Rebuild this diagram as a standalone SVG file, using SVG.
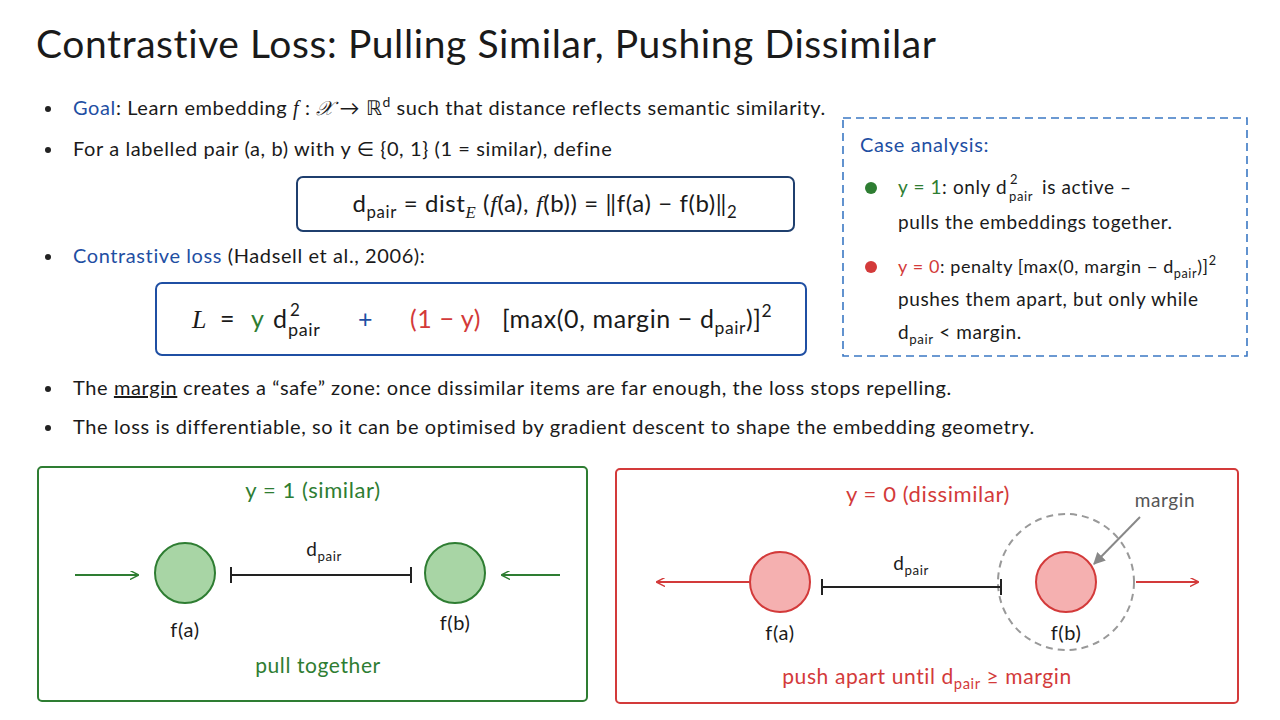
<svg xmlns="http://www.w3.org/2000/svg" width="1280" height="720" viewBox="0 0 1280 720">
<defs>
<style>
text{font-family:Lato,"Open Sans","DejaVu Sans",sans-serif;fill:#1a1a1a;letter-spacing:0.6px}
.b{font-size:20px}
.g{fill:#2e7d32}.r{fill:#d33a3a}.bl{fill:#1f4fa3}
.c{text-anchor:middle}
.s{font-size:70%}
.it{font-style:italic;font-family:"Liberation Serif",serif}
</style>
<marker id="ag" viewBox="0 0 10 10" refX="9" refY="5" markerWidth="9" markerHeight="9" orient="auto-start-reverse" markerUnits="userSpaceOnUse"><path d="M0,0 L10,5 L0,10" fill="none" stroke="#2e7d32" stroke-width="1.6"/></marker>
<marker id="ar" viewBox="0 0 10 10" refX="9" refY="5" markerWidth="9" markerHeight="9" orient="auto-start-reverse" markerUnits="userSpaceOnUse"><path d="M0,0 L10,5 L0,10" fill="none" stroke="#d33a3a" stroke-width="1.6"/></marker>
<marker id="ay" viewBox="0 0 10 10" refX="9" refY="5" markerWidth="12" markerHeight="12" orient="auto" markerUnits="userSpaceOnUse"><path d="M0,0 L10,5 L0,10z" fill="#888"/></marker>
</defs>
<rect width="1280" height="720" fill="#fff"/>
<text x="36" y="58" font-size="39" style="letter-spacing:0.6px">Contrastive Loss: Pulling Similar, Pushing Dissimilar</text>
<g id="bullets" class="b">
<circle cx="48" cy="109" r="3" fill="#222"/><circle cx="48" cy="150" r="3" fill="#222"/><circle cx="48" cy="257" r="3" fill="#222"/><circle cx="48" cy="389" r="3" fill="#222"/><circle cx="48" cy="428" r="3" fill="#222"/>
<text x="73" y="115" class="b"><tspan class="bl">Goal</tspan>: Learn embedding <tspan class="it">f</tspan> : <tspan class="it">𝒳</tspan> → ℝ<tspan dy="-8" class="s">d</tspan><tspan dy="8"> such that distance reflects semantic similarity.</tspan></text>
<text x="73" y="156" class="b">For a labelled pair (a, b) with y ∈ {0, 1}   (1 = similar), define</text>
<text x="73" y="263" class="b"><tspan class="bl">Contrastive loss</tspan> (Hadsell et al., 2006):</text>
<text x="73" y="395" class="b">The <tspan text-decoration="underline">margin</tspan> creates a “safe” zone: once dissimilar items are far enough, the loss stops repelling.</text>
<text x="73" y="434" class="b">The loss is differentiable, so it can be optimised by gradient descent to shape the embedding geometry.</text>
</g>
<g id="eq1">
<rect x="297" y="177" width="497" height="54" rx="6" fill="none" stroke="#1f3f6e" stroke-width="2"/>
<text x="545" y="212" font-size="24" class="c">d<tspan dy="6" class="s">pair</tspan><tspan dy="-6"> = dist</tspan><tspan dy="6" class="s it">E</tspan><tspan dy="-6"> (</tspan><tspan class="it">f</tspan>(a), <tspan class="it">f</tspan>(b)) = ‖f(a) − f(b)‖<tspan dy="6" class="s">2</tspan></text>
</g>
<g id="eq2" font-size="25">
<rect x="156" y="283" width="650" height="72" rx="6" fill="none" stroke="#1f4fa3" stroke-width="2"/>
<text x="192" y="328" font-size="26" class="it">L</text>
<text x="220" y="328">=</text>
<text x="251" y="328" class="g">y</text>
<text x="273" y="328">d</text>
<text x="290" y="316" font-size="17">2</text>
<text x="288" y="336" font-size="18">pair</text>
<text x="358" y="328" class="bl">+</text>
<text x="410" y="328" class="r">(1 − y)</text>
<text x="502" y="328">[max(0, margin − d<tspan dy="6" class="s">pair</tspan><tspan dy="-6">)]</tspan><tspan dy="-11" class="s">2</tspan></text>
</g>
<g id="cases">
<rect x="843" y="118" width="404" height="238" fill="none" stroke="#3b78c4" stroke-width="1.6" stroke-dasharray="8 5"/>
<text x="860" y="152" font-size="20" class="bl">Case analysis:</text>
<circle cx="871" cy="188" r="6" fill="#2e7d32"/>
<circle cx="871" cy="267" r="6" fill="#d33a3a"/>
<text x="898" y="194" font-size="19"><tspan class="g">y = 1</tspan>: only d</text>
<text x="1010" y="184" font-size="13">2</text>
<text x="1009" y="201" font-size="13">pair</text>
<text x="1042" y="194" font-size="19">is active –</text>
<text x="898" y="229" font-size="19">pulls the embeddings together.</text>
<text x="898" y="273" font-size="18"><tspan class="r">y = 0</tspan>: penalty [max(0, margin − d<tspan dy="5" class="s">pair</tspan><tspan dy="-5">)]</tspan><tspan dy="-8" class="s">2</tspan></text>
<text x="898" y="306" font-size="19">pushes them apart, but only while</text>
<text x="898" y="339" font-size="19">d<tspan dy="5" class="s">pair</tspan><tspan dy="-5"> &lt; margin.</tspan></text>
</g>
<g id="similar">
<rect x="38" y="467" width="549" height="234" rx="4" fill="none" stroke="#2e7d32" stroke-width="2"/>
<text x="313" y="498" font-size="22" class="c g">y = 1 (similar)</text>
<circle cx="185" cy="573" r="30" fill="#a8d5a5" stroke="#2e7d32" stroke-width="2"/>
<circle cx="455" cy="573" r="30" fill="#a8d5a5" stroke="#2e7d32" stroke-width="2"/>
<text x="185" y="637" font-size="20" class="c">f(a)</text>
<text x="455" y="630" font-size="20" class="c">f(b)</text>
<text x="324" y="556" font-size="19" class="c">d<tspan dy="5" class="s">pair</tspan></text>
<text x="318" y="673" font-size="21" class="c g">pull together</text>
</g>
<g id="dissimilar">
<rect x="616" y="469" width="622" height="234" rx="4" fill="none" stroke="#d33a3a" stroke-width="2"/>
<text x="928" y="502" font-size="22" class="c r">y = 0 (dissimilar)</text>
<circle cx="1066" cy="582" r="68" fill="none" stroke="#999" stroke-width="2" stroke-dasharray="7 5"/>
<circle cx="780" cy="582" r="30" fill="#f5b0b0" stroke="#d33a3a" stroke-width="2"/>
<circle cx="1066" cy="582" r="30" fill="#f5b0b0" stroke="#d33a3a" stroke-width="2"/>
<text x="780" y="640" font-size="20" class="c">f(a)</text>
<text x="1066" y="640" font-size="20" class="c">f(b)</text>
<text x="911" y="570" font-size="19" class="c">d<tspan dy="5" class="s">pair</tspan></text>
<text x="1165" y="507" font-size="19" class="c" style="fill:#555">margin</text>
<text x="927" y="684" font-size="21" class="c r">push apart until d<tspan dy="5" class="s">pair</tspan><tspan dy="-5"> ≥ margin</tspan></text>
</g>
<g id="connectors" fill="none" stroke-width="2">
<line x1="75" y1="575" x2="138" y2="575" stroke="#2e7d32" marker-end="url(#ag)"/>
<line x1="560" y1="575" x2="502" y2="575" stroke="#2e7d32" marker-end="url(#ag)"/>
<path d="M231,575 H411 M231,567 V583 M411,567 V583" stroke="#222"/>
<line x1="750" y1="582" x2="657" y2="582" stroke="#d33a3a" marker-end="url(#ar)"/>
<line x1="1136" y1="582" x2="1198" y2="582" stroke="#d33a3a" marker-end="url(#ar)"/>
<path d="M822,587 H1001 M822,579 V595 M1001,579 V595" stroke="#222"/>
<line x1="1140" y1="517" x2="1094" y2="564" stroke="#888" marker-end="url(#ay)"/>
</g>
</svg>
